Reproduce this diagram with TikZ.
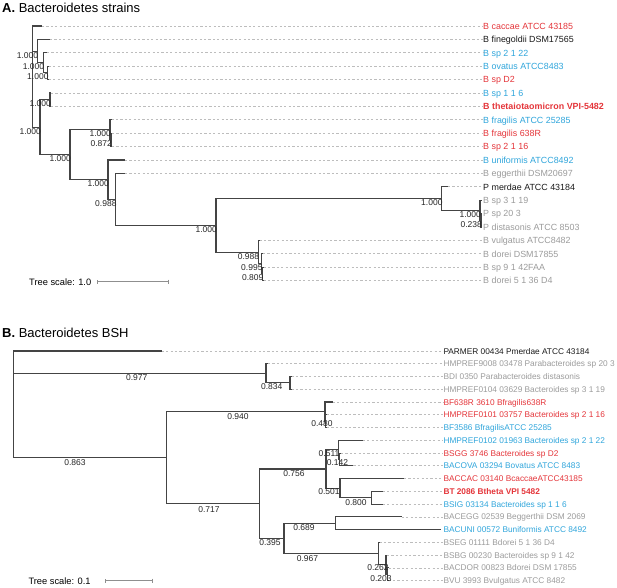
\documentclass[tikz,border=0pt]{standalone}
\usepackage{fontspec}
\setmainfont{Liberation Sans}
\usetikzlibrary{arrows.meta}

\definecolor{strainred}{HTML}{E4353A}
\definecolor{strainblue}{HTML}{2FA5DB}
\definecolor{straingray}{HTML}{9B9B9B}
\definecolor{branchgray}{HTML}{444444}
\definecolor{guidegray}{HTML}{BDBDBD}

\begin{document}
\begin{tikzpicture}[x=1pt, y=-1pt,
    branch/.style={draw=branchgray, line width=1.1pt},
    guide/.style={draw=guidegray, line width=0.8pt, dash pattern=on 2.2pt off 2.2pt},
    leafA/.style={anchor=west, inner sep=0pt, text height=6.4pt, text depth=0pt,
        font=\fontsize{8.9}{10}\selectfont},
    leafB/.style={leafA, text height=6pt, font=\fontsize{8.3}{10}\selectfont},
    boot/.style={inner sep=0pt, text height=6pt, text depth=0pt, text=black!85,
        font=\fontsize{8.5}{10}\selectfont},
    bootA/.style={boot, anchor=east},
    title/.style={anchor=west, inner sep=0pt, text height=9.3pt, text depth=0pt,
        font=\fontsize{13}{15}\selectfont},
    scaletext/.style={anchor=west, inner sep=0pt, text height=6.6pt, text depth=0pt,
        font=\fontsize{9.3}{11}\selectfont},
    scalebar/.style={draw=branchgray!60, line width=0.9pt, {Bar[width=4pt]}-{Bar[width=4pt]}}]
    \useasboundingbox (0,0) rectangle (617,587);

    % A. strains
    \node[title] (titleA) at (2,7.5) {\textbf{A.} Bacteroidetes strains};

    \coordinate (lA1) at (42,26);
    \coordinate (lA2) at (50,39.4);
    \coordinate (lA3) at (47,52.8);
    \coordinate (lA4) at (48.7,66.2);
    \coordinate (lA5) at (48.7,79.6);
    \coordinate (lA6) at (51,93);
    \coordinate (lA7) at (51,106.4);
    \coordinate (lA8) at (111.5,119.8);
    \coordinate (lA9) at (112,133.2);
    \coordinate (lA10) at (112,146.6);
    \coordinate (lA11) at (125,160);
    \coordinate (lA12) at (125,173.4);
    \coordinate (lA13) at (448,186.8);
    \coordinate (lA14) at (481.5,200.2);
    \coordinate (lA15) at (482,213.6);
    \coordinate (lA16) at (482,227);
    \coordinate (lA17) at (259.5,240.4);
    \coordinate (lA18) at (263,253.8);
    \coordinate (lA19) at (263.5,267.2);
    \coordinate (lA20) at (263.5,280.6);

    \node[leafA, text=strainred] (tA1) at (483,26) {B caccae ATCC 43185};
    \node[leafA, text=black!90] (tA2) at (483,39.4) {B finegoldii DSM17565};
    \node[leafA, text=strainblue] (tA3) at (483,52.8) {B sp 2 1 22};
    \node[leafA, text=strainblue] (tA4) at (483,66.2) {B ovatus ATCC8483};
    \node[leafA, text=strainred] (tA5) at (483,79.6) {B sp D2};
    \node[leafA, text=strainblue] (tA6) at (483,93) {B sp 1 1 6};
    \node[leafA, text=strainred, font=\fontsize{8.9}{10}\selectfont\bfseries] (tA7) at (483,106.4) {B thetaiotaomicron VPI-5482};
    \node[leafA, text=strainblue] (tA8) at (483,119.8) {B fragilis ATCC 25285};
    \node[leafA, text=strainred] (tA9) at (483,133.2) {B fragilis 638R};
    \node[leafA, text=strainred] (tA10) at (483,146.6) {B sp 2 1 16};
    \node[leafA, text=strainblue] (tA11) at (483,160) {B uniformis ATCC8492};
    \node[leafA, text=straingray] (tA12) at (483,173.4) {B eggerthii DSM20697};
    \node[leafA, text=black!90] (tA13) at (483,186.8) {P merdae ATCC 43184};
    \node[leafA, text=straingray] (tA14) at (483,200.2) {B sp 3 1 19};
    \node[leafA, text=straingray] (tA15) at (483,213.6) {P sp 20 3};
    \node[leafA, text=straingray] (tA16) at (483,227) {P distasonis ATCC 8503};
    \node[leafA, text=straingray] (tA17) at (483,240.4) {B vulgatus ATCC8482};
    \node[leafA, text=straingray] (tA18) at (483,253.8) {B dorei DSM17855};
    \node[leafA, text=straingray] (tA19) at (483,267.2) {B sp 9 1 42FAA};
    \node[leafA, text=straingray] (tA20) at (483,280.6) {B dorei 5 1 36 D4};

    \draw[guide] (lA1) -- (tA1) (lA2) -- (tA2) (lA3) -- (tA3) (lA4) -- (tA4)
        (lA5) -- (tA5) (lA6) -- (tA6) (lA7) -- (tA7) (lA8) -- (tA8)
        (lA9) -- (tA9) (lA10) -- (tA10) (lA11) -- (tA11) (lA12) -- (tA12)
        (lA13) -- (tA13) (lA17) -- (tA17) (lA18) -- (tA18)
        (lA19) -- (tA19) (lA20) -- (tA20);

    \coordinate (aR) at (32.7,76.6);
    \coordinate (aFin) at (37.3,51.1);
    \coordinate (a22) at (43.3,62.9);
    \coordinate (aOvD) at (47.7,72.9);
    \coordinate (a40) at (40,127.3);
    \coordinate (aTh) at (50,99.7);
    \coordinate (a70) at (70,154.8);
    \coordinate (aFr) at (110,129.9);
    \coordinate (a638) at (111,139.9);
    \coordinate (aUni) at (108,179.7);
    \coordinate (aEgg) at (115.7,199.4);
    \coordinate (aBig) at (216,225.3);
    \coordinate (aMer) at (441.7,198.5);
    \coordinate (a319) at (480,210.3);
    \coordinate (aDis) at (481,220.3);
    \coordinate (aVul) at (258.3,252.1);
    \coordinate (aDor) at (261.7,263.9);
    \coordinate (a936) at (262.5,273.9);

    \draw[branch] (aR) |- (lA1) (aR) |- (aFin) (aR) |- (a40);
    \draw[branch] (aFin) |- (lA2) (aFin) |- (a22);
    \draw[branch] (a22) |- (lA3) (a22) |- (aOvD);
    \draw[branch] (aOvD) |- (lA4) (aOvD) |- (lA5);
    \draw[branch] (a40) |- (aTh) (a40) |- (a70);
    \draw[branch] (aTh) |- (lA6) (aTh) |- (lA7);
    \draw[branch] (a70) |- (aFr) (a70) |- (aUni);
    \draw[branch] (aFr) |- (lA8) (aFr) |- (a638);
    \draw[branch] (a638) |- (lA9) (a638) |- (lA10);
    \draw[branch] (aUni) |- (lA11) (aUni) |- (aEgg);
    \draw[branch] (aEgg) |- (lA12) (aEgg) |- (aBig);
    \draw[branch] (aBig) |- (aMer) (aBig) |- (aVul);
    \draw[branch] (aMer) |- (lA13) (aMer) |- (a319);
    \draw[branch] (a319) |- (lA14) (a319) |- (aDis);
    \draw[branch] (aDis) |- (lA15) (aDis) |- (lA16);
    \draw[branch] (aVul) |- (lA17) (aVul) |- (aDor);
    \draw[branch] (aDor) |- (lA18) (aDor) |- (a936);
    \draw[branch] (a936) |- (lA19) (a936) |- (lA20);

    \path (aFin) ++(1,4) node[bootA] (bFin) {1.000};
    \path (a22) ++(1,4) node[bootA] (b22) {1.000};
    \path (aOvD) ++(1,4) node[bootA] (bOvD) {1.000};
    \path (aTh) ++(1,4) node[bootA] (bTh) {1.000};
    \path (a40) ++(1,4) node[bootA] (b40) {1.000};
    \path (a70) ++(1,4) node[bootA] (b70) {1.000};
    \path (aFr) ++(1,4) node[bootA] (bFr) {1.000};
    \path (a638) ++(1,4) node[bootA] (b638) {0.872};
    \path (aUni) ++(1,4) node[bootA] (bUni) {1.000};
    \path (aEgg) ++(1,4) node[bootA] (bEgg) {0.988};
    \path (aBig) ++(1,4) node[bootA] (bBig) {1.000};
    \path (aMer) ++(1,4) node[bootA] (bMer) {1.000};
    \path (a319) ++(1,4) node[bootA] (b319) {1.000};
    \path (aDis) ++(1,4) node[bootA] (bDis) {0.238};
    \path (aVul) ++(1,4) node[bootA] (bVul) {0.988};
    \path (aDor) ++(1,4) node[bootA] (bDor) {0.995};
    \path (a936) ++(1,4) node[bootA] (b936) {0.809};

    \node[scaletext] (scaleA) at (29,281.7) {Tree scale: 1.0};
    \coordinate (sA0) at (96.7,281.7);
    \coordinate (sA1) at (169.3,281.7);
    \draw[scalebar] (sA0) -- (sA1);

    % B. BSH
    \node[title] (titleB) at (2,333) {\textbf{B.} Bacteroidetes BSH};

    \coordinate (lB1) at (161.7,351);
    \coordinate (lB2) at (268,363.8);
    \coordinate (lB3) at (291.5,376.5);
    \coordinate (lB4) at (291.5,389.3);
    \coordinate (lB5) at (332.7,402);
    \coordinate (lB6) at (327,414.8);
    \coordinate (lB7) at (327,427.6);
    \coordinate (lB8) at (362.7,440.3);
    \coordinate (lB9) at (341,453.1);
    \coordinate (lB10) at (353.3,465.8);
    \coordinate (lB11) at (404,478.6);
    \coordinate (lB12) at (382.7,491.4);
    \coordinate (lB13) at (382.7,504.1);
    \coordinate (lB14) at (401.7,516.9);
    \coordinate (lB15) at (441,529.6);
    \coordinate (lB16) at (379.5,542.4);
    \coordinate (lB17) at (387,555.2);
    \coordinate (lB18) at (388.5,567.9);
    \coordinate (lB19) at (388.5,580.7);

    \node[leafB, text=black!90] (tB1) at (443.3,351) {PARMER 00434 Pmerdae ATCC 43184};
    \node[leafB, text=straingray] (tB2) at (443.3,363.8) {HMPREF9008 03478 Parabacteroides sp 20 3};
    \node[leafB, text=straingray] (tB3) at (443.3,376.5) {BDI 0350 Parabacteroides distasonis};
    \node[leafB, text=straingray] (tB4) at (443.3,389.3) {HMPREF0104 03629 Bacteroides sp 3 1 19};
    \node[leafB, text=strainred] (tB5) at (443.3,402) {BF638R 3610 Bfragilis638R};
    \node[leafB, text=strainred] (tB6) at (443.3,414.8) {HMPREF0101 03757 Bacteroides sp 2 1 16};
    \node[leafB, text=strainblue] (tB7) at (443.3,427.6) {BF3586 BfragilisATCC 25285};
    \node[leafB, text=strainblue] (tB8) at (443.3,440.3) {HMPREF0102 01963 Bacteroides sp 2 1 22};
    \node[leafB, text=strainred] (tB9) at (443.3,453.1) {BSGG 3746 Bacteroides sp D2};
    \node[leafB, text=strainblue] (tB10) at (443.3,465.8) {BACOVA 03294 Bovatus ATCC 8483};
    \node[leafB, text=strainred] (tB11) at (443.3,478.6) {BACCAC 03140 BcaccaeATCC43185};
    \node[leafB, text=strainred, font=\fontsize{8.3}{10}\selectfont\bfseries] (tB12) at (443.3,491.4) {BT 2086 Btheta VPI 5482};
    \node[leafB, text=strainblue] (tB13) at (443.3,504.1) {BSIG 03134 Bacteroides sp 1 1 6};
    \node[leafB, text=straingray] (tB14) at (443.3,516.9) {BACEGG 02539 Beggerthii DSM 2069};
    \node[leafB, text=strainblue] (tB15) at (443.3,529.6) {BACUNI 00572 Buniformis ATCC 8492};
    \node[leafB, text=straingray] (tB16) at (443.3,542.4) {BSEG 01111 Bdorei 5 1 36 D4};
    \node[leafB, text=straingray] (tB17) at (443.3,555.2) {BSBG 00230 Bacteroides sp 9 1 42};
    \node[leafB, text=straingray] (tB18) at (443.3,567.9) {BACDOR 00823 Bdorei DSM 17855};
    \node[leafB, text=straingray] (tB19) at (443.3,580.7) {BVU 3993 Bvulgatus ATCC 8482};

    \draw[guide] (lB1) -- (tB1) (lB2) -- (tB2) (lB3) -- (tB3) (lB4) -- (tB4)
        (lB5) -- (tB5) (lB6) -- (tB6) (lB7) -- (tB7) (lB8) -- (tB8)
        (lB9) -- (tB9) (lB10) -- (tB10) (lB11) -- (tB11) (lB12) -- (tB12)
        (lB13) -- (tB13) (lB14) -- (tB14) (lB16) -- (tB16)
        (lB17) -- (tB17) (lB18) -- (tB18) (lB19) -- (tB19);

    \coordinate (bR) at (13.3,404);
    \coordinate (bPar) at (266,373.3);
    \coordinate (bDi) at (290,382.9);
    \coordinate (bN) at (166.7,457.6);
    \coordinate (bFg) at (325,411.6);
    \coordinate (bSub) at (325.7,421.2);
    \coordinate (bM) at (259.3,503.7);
    \coordinate (bA) at (326,469);
    \coordinate (bT) at (338.3,449.9);
    \coordinate (bS) at (339.5,459.5);
    \coordinate (bU) at (340,488.2);
    \coordinate (bV) at (371.7,497.7);
    \coordinate (bW) at (284,538.4);
    \coordinate (bX) at (335.5,523.3);
    \coordinate (bZ) at (378.3,553.6);
    \coordinate (bY) at (386,564.7);
    \coordinate (bQ) at (387.5,574.3);

    \draw[branch] (bR) |- (lB1) (bR) |- (bPar) (bR) |- (bN);
    \draw[branch] (bPar) |- (lB2) (bPar) |- (bDi);
    \draw[branch] (bDi) |- (lB3) (bDi) |- (lB4);
    \draw[branch] (bN) |- (bFg) (bN) |- (bM);
    \draw[branch] (bFg) |- (lB5) (bFg) |- (bSub);
    \draw[branch] (bSub) |- (lB6) (bSub) |- (lB7);
    \draw[branch] (bM) |- (bA) (bM) |- (bW);
    \draw[branch] (bA) |- (bT) (bA) |- (bU);
    \draw[branch] (bT) |- (lB8) (bT) |- (bS);
    \draw[branch] (bS) |- (lB9) (bS) |- (lB10);
    \draw[branch] (bU) |- (lB11) (bU) |- (bV);
    \draw[branch] (bV) |- (lB12) (bV) |- (lB13);
    \draw[branch] (bW) |- (bX) (bW) |- (bZ);
    \draw[branch] (bX) |- (lB14) (bX) |- (lB15);
    \draw[branch] (bZ) |- (lB16) (bZ) |- (bY);
    \draw[branch] (bY) |- (lB17) (bY) |- (bQ);
    \draw[branch] (bQ) |- (lB18) (bQ) |- (lB19);

    \node[boot] (vPar) at (136.7,377) {0.977};
    \node[boot] (vDi) at (271.7,386.7) {0.834};
    \node[boot] (vFg) at (238,416.7) {0.940};
    \node[boot] (vSub) at (322,423.7) {0.480};
    \node[boot] (vN) at (75,462.7) {0.863};
    \node[boot] (vT) at (329,453.3) {0.511};
    \node[boot] (vS) at (337.5,462.7) {0.142};
    \node[boot] (vA) at (294,473.3) {0.756};
    \node[boot] (vU) at (329,491.7) {0.501};
    \node[boot] (vV) at (356,502.3) {0.800};
    \node[boot] (vM) at (209,509.3) {0.717};
    \node[boot] (vX) at (304,527.3) {0.689};
    \node[boot] (vW) at (270,542.7) {0.395};
    \node[boot] (vZ) at (307.5,558.3) {0.967};
    \node[boot] (vY) at (378,567.7) {0.262};
    \node[boot] (vQ) at (381,578.3) {0.203};

    \node[scaletext] (scaleB) at (28.3,580.7) {Tree scale: 0.1};
    \coordinate (sB0) at (105,580.7);
    \coordinate (sB1) at (152.7,580.7);
    \draw[scalebar] (sB0) -- (sB1);
\end{tikzpicture}
\end{document}
